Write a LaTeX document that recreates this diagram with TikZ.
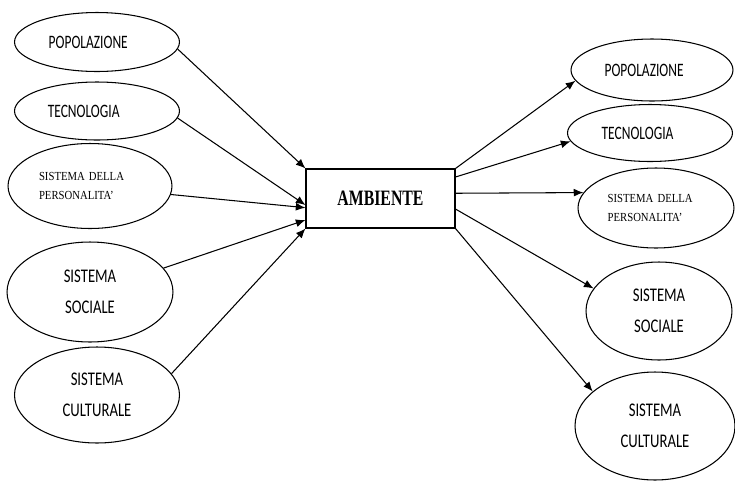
\documentclass[tikz,border=0pt]{standalone}
\usepackage{fontspec}
\usetikzlibrary{arrows.meta, shapes.geometric}
\newfontfamily\labfont[FakeStretch=0.76]{Carlito}
\newfontfamily\onefont[FakeStretch=0.71]{Carlito}
\newfontfamily\serfont[FakeStretch=0.87]{Liberation Serif}
\newfontfamily\boxfont[FakeStretch=0.72]{Liberation Serif}

\begin{document}
\begin{tikzpicture}[x=0.02cm, y=-0.02cm]
    \tikzstyle{oval_style} = [draw, ellipse, inner sep=0pt, line width=0.6pt]
    \tikzstyle{arrow_style} = [-{Latex[length=5.5pt, width=4.5pt]}, line width=0.6pt]
    \tikzstyle{small_font} = [font={\onefont\fontsize{10.8}{12}\selectfont}, align=left]
    \tikzstyle{big_font} = [font={\labfont\fontsize{11}{17.9}\selectfont}, align=center]
    \tikzstyle{serif_font} = [font={\serfont\fontsize{7}{11.3}\selectfont}, align=left]

    \useasboundingbox (0,0) rectangle (735,481);

    \node[draw, line width=0.6pt, inner sep=0pt, minimum width=2.98cm, minimum height=1.18cm,
          font={\boxfont\bfseries\fontsize{12.5}{14}\selectfont}] (amb) at (380.5,198.5) {AMBIENTE};

    \begin{scope}
      \node[oval_style, small_font, text width=55pt, minimum width=3.3cm, minimum height=1.18cm] (lpop) at (97,42) {POPOLAZIONE};
      \node[oval_style, small_font, text width=56pt, minimum width=3.3cm, minimum height=1.16cm] (ltec) at (97,111) {TECNOLOGIA};
      \node[oval_style, serif_font, text width=58pt, minimum width=3.28cm, minimum height=1.7cm] (lper) at (90,186) {SISTEMA DELLA\\PERSONALITA’};
      \node[oval_style, big_font, minimum width=3.32cm, minimum height=2cm] (lsoc) at (90,292) {SISTEMA\\SOCIALE};
      \node[oval_style, big_font, minimum width=3.3cm, minimum height=1.92cm] (lcul) at (97,395) {SISTEMA\\CULTURALE};
    \end{scope}

    \begin{scope}
      \node[oval_style, small_font, text width=54pt, minimum width=3.24cm, minimum height=1.24cm] (rpop) at (652,70) {POPOLAZIONE};
      \node[oval_style, small_font, text width=55pt, minimum width=3.3cm, minimum height=1.14cm] (rtec) at (650,133) {TECNOLOGIA};
      \node[oval_style, serif_font, text width=55pt, minimum width=3.12cm, minimum height=1.6cm] (rper) at (656,208) {SISTEMA DELLA\\PERSONALITA’};
      \node[oval_style, big_font, minimum width=2.92cm, minimum height=1.96cm] (rsoc) at (659,311) {SISTEMA\\SOCIALE};
      \node[oval_style, big_font, minimum width=3.2cm, minimum height=2.16cm] (rcul) at (655,426) {SISTEMA\\CULTURALE};
    \end{scope}

    \draw[arrow_style] (lpop.-5) -- (amb.north west);
    \draw[arrow_style] (ltec.-5) -- (amb.185);
    \draw[arrow_style] (lper.-6) -- (amb.187);
    \draw[arrow_style] (lsoc.18) -- (amb.196);
    \draw[arrow_style] (lcul.16) -- (amb.south west);

    \draw[arrow_style] (amb.north east) -- (rpop.188);
    \draw[arrow_style] (amb.16) -- (rtec.186);
    \draw[arrow_style] (amb.4) -- (rper.168);
    \draw[arrow_style] (amb.-8) -- (rsoc.161);
    \draw[arrow_style] (amb.south east) -- (rcul.151);
\end{tikzpicture}
\end{document}
